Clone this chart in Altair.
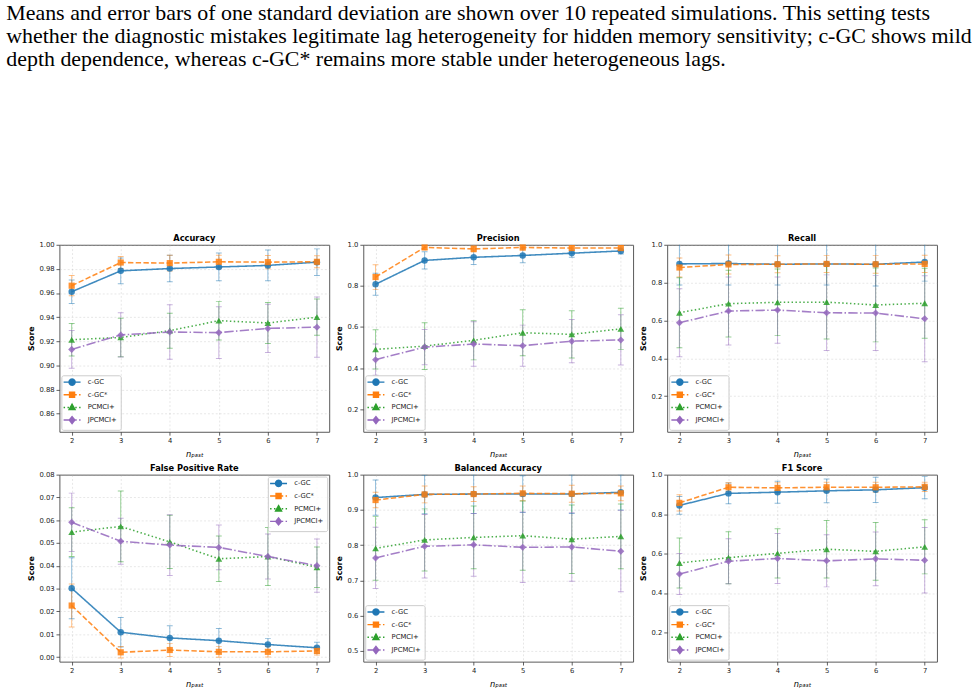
import altair as alt
import pandas as pd

N_PAST = [2, 3, 4, 5, 6, 7]
SERIES = ["c-GC", "c-GC*", "PCMCI+", "JPCMCI+"]
COLORS = ["#1f77b4", "#ff7f0e", "#2ca02c", "#9467bd"]
DASHES = [[1, 0], [5.5, 2.4], [1.5, 2.5], [9.6, 2.4, 1.5, 2.4]]
SHAPES = ["circle", "square", "triangle-up", "diamond"]
SIZES = [44, 40, 48, 52]

# legend glyphs: line segment (with its dash pattern) + marker, in Vega's unit symbol box
LEGEND_PATHS = [
    "M-2.9,0H2.9M1.05,0L0.91,0.52L0.52,0.91L0,1.05L-0.52,0.91L-0.91,0.52L-1.05,0"
    "L-0.91,-0.52L-0.52,-0.91L0,-1.05L0.52,-0.91L0.91,-0.52Z",
    "M-2.9,0H-1.05M-0.25,0H1.6M2.4,0H2.9M-0.85,-0.85H0.85V0.85H-0.85Z",
    "M-2.9,0H-2.4M-1.57,0H-1.07M1.09,0H1.59M2.42,0H2.9M0,-1.05L1,0.75H-1Z",
    "M-2.9,0H0.3M1.1,0H1.6M2.4,0H2.9M0,-1.2L0.95,0L0,1.2L-0.95,0Z",
]

ACC_MEAN = [[0.9611, 0.9784, 0.9803, 0.9816, 0.9829, 0.9856],
            [0.9661, 0.9853, 0.9848, 0.9859, 0.9856, 0.9859],
            [0.9213, 0.9232, 0.9288, 0.9371, 0.9352, 0.9400],
            [0.9133, 0.9253, 0.9277, 0.9272, 0.9307, 0.9317]]
ACC_SD = [[0.0098, 0.0107, 0.0110, 0.0115, 0.0127, 0.0110],
          [0.0084, 0.0050, 0.0066, 0.0055, 0.0055, 0.0050],
          [0.0135, 0.0160, 0.0145, 0.0160, 0.0170, 0.0150],
          [0.0157, 0.0184, 0.0226, 0.0215, 0.0200, 0.0250]]

PREC_MEAN = [[0.808, 0.924, 0.939, 0.948, 0.959, 0.970],
             [0.843, 0.987, 0.980, 0.987, 0.984, 0.984],
             [0.491, 0.507, 0.535, 0.572, 0.564, 0.591],
             [0.441, 0.502, 0.517, 0.509, 0.531, 0.537]]
PREC_SD = [[0.054, 0.042, 0.035, 0.035, 0.020, 0.015],
           [0.060, 0.010, 0.015, 0.012, 0.012, 0.012],
           [0.095, 0.114, 0.095, 0.112, 0.115, 0.100],
           [0.076, 0.086, 0.108, 0.100, 0.105, 0.122]]

REC_MEAN = [[0.899, 0.901, 0.897, 0.899, 0.897, 0.909],
            [0.880, 0.896, 0.897, 0.899, 0.897, 0.899],
            [0.641, 0.689, 0.696, 0.697, 0.682, 0.691],
            [0.588, 0.650, 0.655, 0.641, 0.639, 0.609]]
REC_SD = [[0.111, 0.113, 0.110, 0.112, 0.115, 0.101],
          [0.050, 0.050, 0.045, 0.045, 0.047, 0.046],
          [0.185, 0.176, 0.176, 0.195, 0.195, 0.185],
          [0.180, 0.180, 0.175, 0.200, 0.198, 0.227]]

FPR_MEAN = [[0.0302, 0.0109, 0.0084, 0.0072, 0.0055, 0.0041],
            [0.0226, 0.0021, 0.0031, 0.0023, 0.0023, 0.0027],
            [0.0548, 0.0573, 0.0505, 0.0431, 0.0441, 0.0394],
            [0.0591, 0.0508, 0.0491, 0.0481, 0.0441, 0.0401]]
FPR_SD = [[0.0134, 0.0065, 0.0053, 0.0053, 0.0027, 0.0024],
          [0.0094, 0.0025, 0.0028, 0.0024, 0.0023, 0.0018],
          [0.0107, 0.0155, 0.0117, 0.0100, 0.0127, 0.0089],
          [0.0128, 0.0101, 0.0133, 0.0098, 0.0099, 0.0117]]

BAL_MEAN = [[0.935, 0.944, 0.945, 0.945, 0.945, 0.950],
            [0.928, 0.944, 0.945, 0.947, 0.946, 0.947],
            [0.791, 0.815, 0.822, 0.827, 0.817, 0.825],
            [0.764, 0.797, 0.801, 0.794, 0.795, 0.783]]
BAL_SD = [[0.050, 0.055, 0.055, 0.052, 0.055, 0.050],
          [0.022, 0.024, 0.021, 0.021, 0.024, 0.021],
          [0.090, 0.088, 0.089, 0.098, 0.097, 0.092],
          [0.087, 0.090, 0.089, 0.100, 0.097, 0.115]]

F1_MEAN = [[0.844, 0.905, 0.911, 0.918, 0.923, 0.934],
           [0.857, 0.936, 0.933, 0.936, 0.936, 0.938],
           [0.552, 0.579, 0.601, 0.622, 0.611, 0.634],
           [0.496, 0.561, 0.575, 0.563, 0.573, 0.566]]
F1_SD = [[0.045, 0.053, 0.056, 0.060, 0.064, 0.056],
         [0.041, 0.023, 0.026, 0.025, 0.025, 0.024],
         [0.127, 0.132, 0.125, 0.146, 0.146, 0.137],
         [0.104, 0.114, 0.127, 0.132, 0.136, 0.166]]

PARAGRAPH = [
    "Means and error bars of one standard deviation are shown over 10 repeated simulations.  This setting tests",
    "whether the diagnostic mistakes legitimate lag heterogeneity for hidden memory sensitivity; c-GC shows mild",
    "depth dependence, whereas c-GC* remains more stable under heterogeneous lags.",
]

PLOT_W = 277
PLOT_H = 192


def build(mean, sd):
    rows = []
    for si, s in enumerate(SERIES):
        for ni, n in enumerate(N_PAST):
            m = mean[si][ni]
            d = sd[si][ni]
            rows.append({"series": s, "n": n, "mean": m, "lo": m - d, "hi": m + d})
    return pd.DataFrame(rows)


def make_legend(orient):
    return alt.Legend(
        orient=orient, title=None,
        fillColor="rgba(255,255,255,0.8)", strokeColor="#cccccc", cornerRadius=2, padding=3, offset=2,
        labelFont="DejaVu Sans", labelFontSize=7, labelColor="#222222",
        symbolSize=36, symbolStrokeWidth=1.5, symbolOpacity=1, rowPadding=0,
        symbolOffset=4, labelOffset=12,
    )


def panel(title, mean, sd, ydom, yticks, yfmt, orient):
    df = build(mean, sd)
    base = alt.Chart(df)
    xax = alt.Axis(values=N_PAST, format="d", title="nₚₐₛₜ")
    xs = alt.Scale(domain=[1.75, 7.25], nice=False, zero=False)
    ys = alt.Scale(domain=ydom, nice=False, zero=False)
    yax = alt.Axis(values=yticks, format=yfmt, title="Score")
    x = alt.X("n:Q", scale=xs, axis=xax)
    csc = alt.Scale(domain=SERIES, range=COLORS)
    color = alt.Color("series:N", scale=csc, legend=None)
    leg = make_legend(orient)

    bars = base.mark_rule(opacity=0.5, strokeWidth=1, clip=True).encode(
        x=x, y=alt.Y("lo:Q", scale=ys, axis=yax), y2="hi:Q", color=color)
    cap_lo = base.mark_tick(orient="horizontal", size=6, thickness=1, opacity=0.5, clip=True).encode(
        x=x, y=alt.Y("lo:Q", scale=ys, axis=yax), color=color)
    cap_hi = base.mark_tick(orient="horizontal", size=6, thickness=1, opacity=0.5, clip=True).encode(
        x=x, y=alt.Y("hi:Q", scale=ys, axis=yax), color=color)
    line = base.mark_line(strokeWidth=1.6, opacity=0.85, clip=True).encode(
        x=x, y=alt.Y("mean:Q", scale=ys, axis=yax), color=color,
        strokeDash=alt.StrokeDash("series:N", scale=alt.Scale(domain=SERIES, range=DASHES), legend=None))
    pts = []
    for i, s in enumerate(SERIES):
        pts.append(base.transform_filter(alt.datum.series == s).mark_point(
            filled=True, shape=SHAPES[i], size=SIZES[i], opacity=0.85).encode(
            x=x, y=alt.Y("mean:Q", scale=ys, axis=yax), color=color))
    legend_layer = base.mark_point(filled=True, size=0).encode(
        x=x, y=alt.Y("mean:Q", scale=ys, axis=yax),
        fill=alt.Fill("series:N", scale=csc, legend=leg),
        stroke=alt.Stroke("series:N", scale=csc, legend=leg),
        shape=alt.Shape("series:N", scale=alt.Scale(domain=SERIES, range=LEGEND_PATHS), legend=leg))
    return alt.layer(bars, cap_lo, cap_hi, line, *pts, legend_layer).properties(
        width=PLOT_W, height=PLOT_H,
        title=alt.TitleParams(text=title, fontSize=8.5, fontWeight="bold", font="DejaVu Sans",
                              color="black", anchor="middle", offset=-2),
    )


p_acc = panel("Accuracy", ACC_MEAN, ACC_SD, [0.845, 1.0],
              [0.86, 0.88, 0.90, 0.92, 0.94, 0.96, 0.98, 1.00], ".2f", "bottom-left")
p_prec = panel("Precision", PREC_MEAN, PREC_SD, [0.09, 1.0],
               [0.2, 0.4, 0.6, 0.8, 1.0], ".1f", "bottom-left")
p_rec = panel("Recall", REC_MEAN, REC_SD, [0.012, 1.0],
              [0.2, 0.4, 0.6, 0.8, 1.0], ".1f", "bottom-left")
p_fpr = panel("False Positive Rate", FPR_MEAN, FPR_SD, [-0.002, 0.08],
              [0.0, 0.01, 0.02, 0.03, 0.04, 0.05, 0.06, 0.07, 0.08], ".2f", "top-right")
p_bal = panel("Balanced Accuracy", BAL_MEAN, BAL_SD, [0.47, 1.0],
              [0.5, 0.6, 0.7, 0.8, 0.9, 1.0], ".1f", "bottom-left")
p_f1 = panel("F1 Score", F1_MEAN, F1_SD, [0.052, 1.0],
             [0.2, 0.4, 0.6, 0.8, 1.0], ".1f", "bottom-left")

chart = alt.concat(
    p_acc, p_prec, p_rec, p_fpr, p_bal, p_f1, columns=3, spacing={"row": 5, "column": 4},
).properties(
    padding={"left": 6, "top": -7, "right": 0, "bottom": 0},
    title=alt.TitleParams(text=PARAGRAPH, anchor="start", frame="bounds", font="Liberation Serif",
                          fontSize=22.5, fontWeight="normal", lineHeight=23.5, color="black",
                          offset=168, dx=-21),
).configure_view(
    stroke="#555555", strokeWidth=1,
).configure_axis(
    grid=True, gridDash=[2, 2], gridColor="#b0b0b0", gridOpacity=0.45, gridWidth=0.7,
    domain=False, tickSize=3.5, tickColor="#333333", tickWidth=0.8,
    labelFont="DejaVu Sans", labelFontSize=7, labelColor="#222222", labelPadding=2,
    titleFont="DejaVu Sans", titleFontSize=8, titleFontWeight="bold", titleColor="black", titlePadding=4,
).configure_axisX(
    titleFontWeight="normal", titleFontStyle="italic", titleFontSize=8.5, titlePadding=6,
)

chart.save("out.html", embed_options={"renderer": "svg", "actions": False})
